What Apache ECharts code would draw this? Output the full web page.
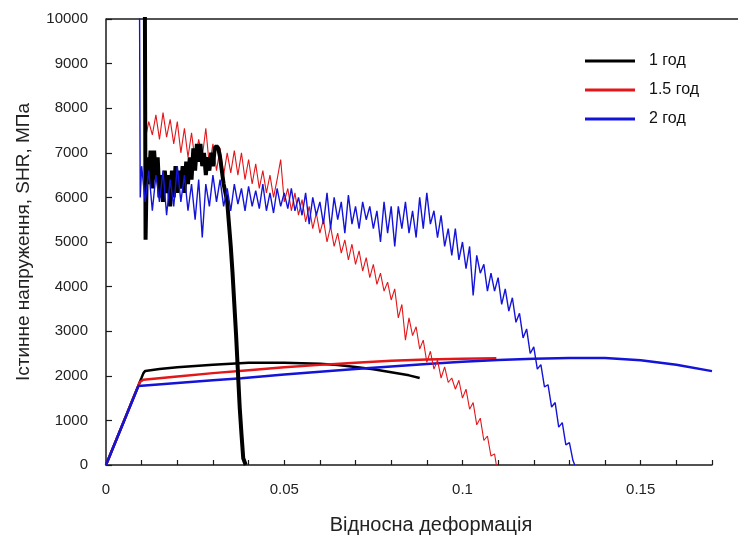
<!DOCTYPE html>
<html>
<head>
<meta charset="utf-8">
<script src="https://cdn.jsdelivr.net/npm/echarts@6/dist/echarts.min.js"></script>
<style>
  html, body { margin: 0; padding: 0; background: #fff; }
  #main { width: 738px; height: 539px; }
</style>
</head>
<body>
<div id="main"></div>
<script>
// назви серій (легенда)
const seriesNames = ['1 год', '1.5 год', '2 год'];

// підписи осі X
const xTickValues = [0, 0.05, 0.1, 0.15];
const xTickLabels = ['0', '0.05', '0.1', '0.15'];

// гладкі криві (деформація, напруження)
const blackSmoothStrain = [0, 0.0100, 0.0105, 0.011, 0.015, 0.02, 0.03, 0.04, 0.05, 0.06, 0.065, 0.07, 0.075, 0.08, 0.085, 0.088];
const blackSmoothStress = [0, 1960, 2060, 2110, 2150, 2190, 2250, 2290, 2295, 2270, 2240, 2195, 2145, 2080, 2010, 1950];

const redSmoothStrain = [0, 0.0095, 0.0105, 0.02, 0.03, 0.04, 0.05, 0.06, 0.07, 0.08, 0.09, 0.1, 0.1095];
const redSmoothStress = [0, 1860, 1910, 1985, 2060, 2125, 2190, 2245, 2295, 2335, 2365, 2385, 2395];

const blueSmoothStrain = [0, 0.0091, 0.02, 0.03, 0.038, 0.05, 0.06, 0.07, 0.08, 0.09, 0.1, 0.11, 0.12, 0.13, 0.14, 0.15, 0.16, 0.17];
const blueSmoothStress = [0, 1771, 1840, 1900, 1944, 2030, 2090, 2150, 2210, 2265, 2315, 2355, 2385, 2400, 2400, 2350, 2250, 2105];

// експериментальні криві: початок, крок по деформації, напруження
const blackTestHead = [[0.0109, 10500], [0.0111, 5050]];
const blackTestStart = 0.0115, blackTestStep = 0.0005;
const blackTestStress = [
  6900, 6300, 7050, 6200, 7050, 6400, 6900, 6000, 6500, 5900,
  6600, 6100, 6500, 5800, 6600, 6000, 6700, 6100, 6600, 6200,
  6700, 6100, 6800, 6300, 6900, 6400, 7100, 6600, 7200, 6800,
  7200, 6700, 7000, 6500, 6900, 6600, 7000, 6700, 7100, 7150,
  7100, 6900, 6600, 6300, 6100, 5900, 5400, 4900, 4300, 3600,
  2900, 2100, 1300, 700, 150
];
const blackTestTail = [[0.0392, 0]];

const redTestHead = [[0.0105, 10500], [0.0108, 8200]];
const redTestStart = 0.011, redTestStep = 0.001;
const redTestStress = [
  7300, 7700, 7400, 7850, 7300, 7900, 7350, 7750, 7200, 7700,
  7000, 7550, 6900, 7450, 6800, 7300, 6900, 7550, 6700, 7200,
  6600, 7100, 6500, 7000, 6550, 7050, 6500, 7000, 6400, 6850,
  6300, 6750, 6200, 6600, 6100, 6500, 6000, 6400, 6850, 5900,
  6200, 5700, 6100, 5600, 5950, 5450, 5800, 5300, 5650, 5200,
  5500, 5000, 5350, 4900, 5200, 4750, 5050, 4600, 4950, 4500,
  4800, 4350, 4650, 4200, 4500, 4050, 4300, 3900, 4100, 3700,
  3950, 3300, 3600, 2800, 3300, 2900, 3100, 2600, 2800, 2300,
  2550, 2150, 2350, 1950, 2200, 1850, 1950, 1700, 1900, 1500,
  1700, 1250, 1400, 900, 1050, 550, 650, 200, 250
];
const redTestTail = [[0.1095, 0]];

const blueTestHead = [[0.0094, 10500], [0.0096, 6000]];
const blueTestStart = 0.010, blueTestStep = 0.001;
const blueTestStress = [
  6700, 5900, 6600, 5700, 6500, 5900, 6600, 5600, 6400, 5800,
  6700, 5900, 6500, 5700, 6300, 5500, 6400, 5100, 6300, 5800,
  6500, 5900, 6400, 5800, 6200, 5700, 6300, 5850, 6200, 5700,
  6250, 5800, 6150, 5750, 6300, 5700, 6100, 5650, 6200, 5800,
  6100, 5750, 6200, 5700, 6000, 5600, 6100, 5400, 6000, 5600,
  5900, 5400, 6100, 5300, 6000, 5500, 5900, 5200, 6050, 5400,
  5800, 5300, 5900, 5500, 5800, 5300, 5700, 5000, 5900, 5200,
  5800, 4900, 5800, 5300, 5900, 5200, 5700, 5100, 6000, 5300,
  6100, 5400, 5700, 5100, 5600, 4900, 5300, 4700, 5300, 4600,
  5000, 4400, 4900, 3800, 4700, 4300, 4500, 3900, 4300, 3900,
  4200, 3600, 3950, 3450, 3750, 3200, 3400, 2850, 3050, 2500,
  2650, 2150, 2250, 1750, 1800, 1300, 1400, 850, 950, 450,
  500, 100
];
const blueTestTail = [[0.1315, 0]];

const colors = ['#000000', '#e3161a', '#1414d8'];

function pairs(xs, ys) {
  return xs.map((x, i) => [x, ys[i]]);
}
function testData(head, start, step, stress, tail) {
  const body = stress.map((s, i) => [+(start + i * step).toFixed(5), s]);
  return head.concat(body, tail);
}

const myChart = echarts.init(document.getElementById('main'));

const axisColor = '#1a1a1a';
const font = 'Liberation Sans, Arial, sans-serif';
// значок легенди - проста лінія
const lineIcon = 'path://M0,0 L50,0 L50,3 L0,3 Z';

const option = {
  animation: false,
  backgroundColor: '#fff',
  textStyle: { fontFamily: font },
  grid: { left: 106, top: 19, right: 26, bottom: 74, containLabel: false, outerBoundsMode: 'none' },
  legend: {
    orient: 'vertical',
    left: 580,
    top: 48,
    itemWidth: 50,
    itemHeight: 3,
    itemGap: 13,
    data: seriesNames.map(n => ({ name: n, icon: lineIcon })),
    textStyle: { fontSize: 16, color: '#111', fontFamily: font, padding: [0, 0, 0, 9] }
  },
  graphic: [{
    type: 'line',
    shape: { x1: 106, y1: 19, x2: 738, y2: 19 },
    style: { stroke: axisColor, lineWidth: 1.5 }
  }],
  xAxis: {
    type: 'value',
    min: 0,
    max: 0.17,
    interval: 0.01,
    name: 'Відносна деформація',
    nameLocation: 'middle',
    nameGap: 50,
    nameTextStyle: { fontSize: 20, color: '#222', padding: [0, 0, 0, 44] },
    axisLine: { show: true, onZero: false, lineStyle: { color: axisColor, width: 1.5 } },
    axisTick: { show: true, inside: true, length: 5, lineStyle: { color: axisColor, width: 1.2 } },
    axisLabel: {
      fontSize: 15,
      color: '#222',
      margin: 17,
      showMaxLabel: true,
      formatter: function (v) {
        const k = xTickValues.findIndex(t => Math.abs(t - v) < 1e-9);
        return k >= 0 ? xTickLabels[k] : '';
      }
    },
    splitLine: { show: false }
  },
  yAxis: {
    type: 'value',
    min: 0,
    max: 10000,
    interval: 1000,
    name: 'Істинне напруження, SHR, МПа',
    nameLocation: 'middle',
    nameGap: 73,
    nameTextStyle: { fontSize: 19, color: '#222' },
    axisLine: { show: true, lineStyle: { color: axisColor, width: 1.5 } },
    axisTick: { show: true, inside: true, length: 6, lineStyle: { color: axisColor, width: 1.2 } },
    axisLabel: { fontSize: 15, color: '#222', margin: 18, formatter: v => String(v) },
    splitLine: { show: false }
  },
  series: [
    {
      name: seriesNames[0], type: 'line', symbol: 'none', z: 3,
      data: pairs(blackSmoothStrain, blackSmoothStress),
      lineStyle: { color: colors[0], width: 2.5 }, itemStyle: { color: colors[0] }
    },
    {
      name: seriesNames[1], type: 'line', symbol: 'none', z: 3,
      data: pairs(redSmoothStrain, redSmoothStress),
      lineStyle: { color: colors[1], width: 2.5 }, itemStyle: { color: colors[1] }
    },
    {
      name: seriesNames[2], type: 'line', symbol: 'none', z: 3,
      data: pairs(blueSmoothStrain, blueSmoothStress),
      lineStyle: { color: colors[2], width: 2.5 }, itemStyle: { color: colors[2] }
    },
    {
      name: seriesNames[1], type: 'line', symbol: 'none', z: 4,
      data: testData(redTestHead, redTestStart, redTestStep, redTestStress, redTestTail),
      lineStyle: { color: colors[1], width: 1.1 }
    },
    {
      name: seriesNames[0], type: 'line', symbol: 'none', z: 5,
      data: testData(blackTestHead, blackTestStart, blackTestStep, blackTestStress, blackTestTail),
      lineStyle: { color: colors[0], width: 4 }
    },
    {
      name: seriesNames[2], type: 'line', symbol: 'none', z: 6,
      data: testData(blueTestHead, blueTestStart, blueTestStep, blueTestStress, blueTestTail),
      lineStyle: { color: colors[2], width: 1.4 }
    }
  ]
};

option && myChart.setOption(option);
</script>
</body>
</html>
